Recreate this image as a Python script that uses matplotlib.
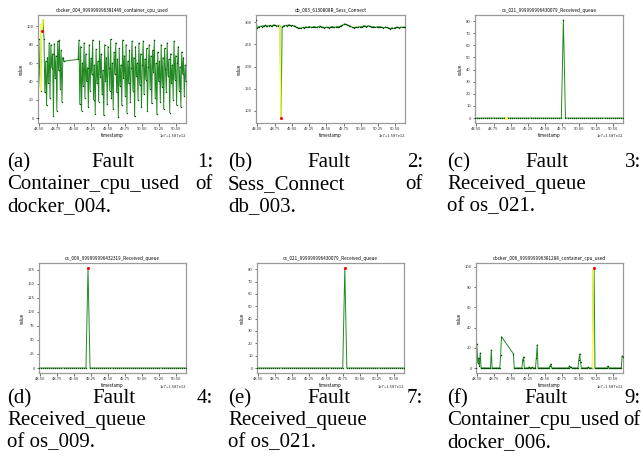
import numpy as np
import matplotlib
matplotlib.use("Agg")
import matplotlib.pyplot as plt
from matplotlib.ticker import FormatStrFormatter, MultipleLocator

# ---------------- data (time in units of 1e7 ms, offset 1.587e12) ----------------
T_START, T_END = 48.48, 50.64

# (a) docker_004 container_cpu_used: two sampled stretches with a gap between
a_seg1 = [0, 86, 48, 30, 102, 95, 107, 86, 28, 62, 14, 66, 38, 82, 22, 80, 55, 70, 2, 81,
          44, 68, 8, 84, 52, 85, 32, 74, 18, 66, 62]
a_seg2 = [64, 85, 15, 78, 8, 60, 35, 82, 22, 70, 40, 55, 12, 80, 30, 65, 48, 85, 20, 58,
          5, 75, 38, 62, 18, 84, 45, 70, 26, 52, 3, 80, 40, 66, 15, 78, 55, 30, 86, 22,
          60, 10, 72, 48, 82, 28, 64, 1, 76, 35, 58, 14, 85, 44, 68, 24, 80, 6, 62, 38,
          74, 18, 55, 84, 30, 66, 2, 78, 46, 60, 20, 82, 36, 70, 12, 58, 84, 26, 64, 42,
          76, 8, 56, 80, 32, 68, 16, 74, 50, 85, 22, 60, 4, 72, 40, 62, 18, 80, 34, 66,
          10, 76, 54, 28, 82, 46, 64, 6, 70, 38, 58, 20, 84, 42, 68, 14, 60, 78, 30, 56,
          12, 72, 48, 66, 24, 58, 40]
a_step = 0.0125
a_anom = (3, 6)      # yellow window (indices in seg1)
a_fault = 5          # red point index

# (b) db_003 Sess_Connect
b_vals = [305, 287, 289, 290, 291, 290, 292, 291, 293, 292, 291, 292, 293, 292, 291, 293,
          294, 293, 292, 291, 293, 292, 84, 289, 291, 292, 293, 292, 293, 294, 293, 292,
          293, 291, 292, 289, 288, 286, 287, 286, 287, 288, 287, 288, 289, 288, 289, 290,
          289, 288, 289, 290, 289, 288, 289, 290, 291, 290, 289, 288, 287, 288, 289, 288,
          287, 288, 289, 290, 289, 288, 289, 290, 289, 290, 291, 292, 293, 295, 296, 295,
          294, 293, 292, 291, 289, 288, 287, 288, 289, 288, 289, 290, 289, 290, 291, 292,
          291, 290, 291, 292, 291, 290, 289, 290, 289, 288, 289, 290, 289, 290, 289, 288,
          287, 288, 289, 288, 287, 286, 285, 286, 287, 286, 287, 288, 289, 288, 287, 288,
          289, 288, 289, 288]
b_anom = (21, 22)
b_fault = 22

# (c)/(e) os_021 Received_queue
c_vals = [0] * 43 + [81] + [0] * 29
c_mark = 15          # yellow marker in (c)
e_fault = 43         # red marker in (e)

# (d) os_009 Received_queue
d_vals = [0] * 24 + [178] + [0] * 48
d_fault = 24

# (f) docker_006 container_cpu_used (nan = no sample)
nan = float("nan")
f_vals = ([0, 24, 5, 10, 2, 15, 0] + [0] * 11 + [18] + [0] * 10 + [13, 31] + [nan] * 13 +
          [14] + [0] * 10 + [8, 11] + [0] * 5 + [1] + [0] * 3 + [1] + [0] * 4 + [10, 23] +
          [0] * 14 + [2, 4] + [0] * 21 + [2, 1, 1] + [0] * 8 + [8, 14, 6] + [0] * 8 + [1] +
          [0] * 5 + [97, 99] + [0] * 15 + [2] + [0] * 16 + [12, 11])
f_anom = (137, 139)
f_fault = 139

titles = ["docker_004_999999996381449_container_cpu_used",
          "db_003_6130808R_Sess_Connect",
          "os_021_999999996430079_Received_queue",
          "os_009_999999996432319_Received_queue",
          "os_021_999999996430079_Received_queue",
          "docker_006_999999996381288_container_cpu_used"]

captions = [
    [(["(a)", "Fault", "1:"], True), (["Container_cpu_used", "of"], True), (["docker_004."], False)],
    [(["(b)", "Fault", "2:"], True), (["Sess_Connect", "of"], True), (["db_003."], False)],
    [(["(c)", "Fault", "3:"], True), (["Received_queue"], False), (["of os_021."], False)],
    [(["(d)", "Fault", "4:"], True), (["Received_queue"], False), (["of os_009."], False)],
    [(["(e)", "Fault", "7:"], True), (["Received_queue"], False), (["of os_021."], False)],
    [(["(f)", "Fault", "9:"], True), (["Container_cpu_used", "of"], True), (["docker_006."], False)],
]

# ---------------- figure ----------------
W, H = 643, 470
fig = plt.figure(figsize=(W / 100, H / 100), dpi=100)
TICKFONT = ["Noto Sans CJK SC", "DejaVu Sans"]

# axes boxes in pixels (left, right, top, bottom)
boxes = [(38, 186, 15, 123), (256, 405, 15, 123), (475, 623, 15, 123),
         (39, 186, 263, 373), (257, 404, 263, 373), (476, 623, 263, 373)]


def make_ax(box):
    l, r, t, b = box
    ax = fig.add_axes([l / W, 1 - b / H, (r - l) / W, (b - t) / H])
    for s in ax.spines.values():
        s.set_color("#9a9a9a")
        s.set_linewidth(0.9)
    ax.tick_params(labelsize=3.0, length=1.8, width=0.5, pad=1.2, colors="#333333")
    ax.xaxis.set_major_locator(MultipleLocator(0.25))
    ax.xaxis.set_major_formatter(FormatStrFormatter("%.2f"))
    ax.set_xlim(T_START, T_END)
    ax.set_xlabel("timestamp", fontsize=3.2, labelpad=1.5, family=TICKFONT)
    ax.set_ylabel("value", fontsize=3.2, labelpad=2, family=TICKFONT)
    ax.text(1.0, -0.105, "1e7+1.587e12", transform=ax.transAxes, ha="right", va="top",
            fontsize=3.0, family=TICKFONT, color="#333333")
    return ax


def draw(ax, t, v, title, anom=None, fault=None, fault_color="red"):
    t = np.asarray(t, float)
    v = np.asarray(v, float)
    m = ~np.isnan(v)
    ax.plot(t[m], v[m], color="#0b7d0b", lw=0.7, alpha=0.9, zorder=2)
    ax.plot(t[m], v[m], ls="none", marker="o", ms=1.0, mew=0, color="#005000", zorder=3)
    if anom is not None:
        i0, i1 = anom
        ax.plot(t[i0:i1 + 1], v[i0:i1 + 1], color="#ffff33", lw=1.0, zorder=4)
    if fault is not None:
        ax.plot([t[fault]], [v[fault]], ls="none", marker="o", ms=2.2, mew=0,
                color=fault_color, zorder=5)
    ax.set_title(title, fontsize=3.3, pad=2.5, family=TICKFONT)
    ax.margins(x=0)
    ax.set_xlim(T_START, T_END)


axes = [make_ax(b) for b in boxes]

# (a)
ta1 = T_START + a_step * np.arange(len(a_seg1))
ta2 = T_END - a_step * np.arange(len(a_seg2))[::-1]
ta = np.concatenate([ta1, ta2])
va = np.array(a_seg1 + a_seg2, float)
draw(axes[0], ta, va, titles[0], anom=a_anom, fault=a_fault)
axes[0].yaxis.set_major_locator(MultipleLocator(20))

# (b)
tb = np.linspace(T_START, T_END, len(b_vals))
draw(axes[1], tb, b_vals, titles[1], anom=b_anom, fault=b_fault)
axes[1].yaxis.set_major_locator(MultipleLocator(50))

# (c)
tc = np.linspace(T_START, T_END, len(c_vals))
draw(axes[2], tc, c_vals, titles[2], fault=c_mark, fault_color="#ffff33")
axes[2].yaxis.set_major_locator(MultipleLocator(10))

# (d)
td = np.linspace(T_START, T_END, len(d_vals))
draw(axes[3], td, d_vals, titles[3], fault=d_fault)
axes[3].yaxis.set_major_locator(MultipleLocator(25))

# (e)
draw(axes[4], tc, c_vals, titles[4], fault=e_fault)
axes[4].yaxis.set_major_locator(MultipleLocator(10))

# (f)
tf = np.linspace(T_START, T_END, len(f_vals))
draw(axes[5], tf, f_vals, titles[5], anom=f_anom, fault=f_fault)
axes[5].yaxis.set_major_locator(MultipleLocator(20))

for ax in axes:
    for lab in ax.get_xticklabels() + ax.get_yticklabels():
        lab.set_family(TICKFONT)

# ---------------- captions (justified like LaTeX subcaptions) ----------------
CAPFONT = "Liberation Serif"
CAPSIZE = 15.0
col_x = [(7, 213), (228, 423), (447, 641)]
row_base = [(167, 189, 211), (403, 425, 447)]
renderer = fig.canvas.get_renderer()


def text_width(s):
    tt = fig.text(0, 0, s, fontsize=CAPSIZE, family=CAPFONT)
    w = tt.get_window_extent(renderer).width
    tt.remove()
    return w


for k, cap in enumerate(captions):
    x0, x1 = col_x[k % 3]
    bases = row_base[k // 3]
    for (words, just), yb in zip(cap, bases):
        if just and len(words) > 1:
            widths = [text_width(wd) for wd in words]
            gap = (x1 - x0 - sum(widths)) / (len(words) - 1)
            x = x0
            for wd, wdt in zip(words, widths):
                fig.text(x / W, 1 - yb / H, wd, fontsize=CAPSIZE, family=CAPFONT,
                         ha="left", va="baseline")
                x += wdt + gap
        else:
            fig.text(x0 / W, 1 - yb / H, " ".join(words), fontsize=CAPSIZE, family=CAPFONT,
                     ha="left", va="baseline")

fig.savefig("out.png", dpi=100)
